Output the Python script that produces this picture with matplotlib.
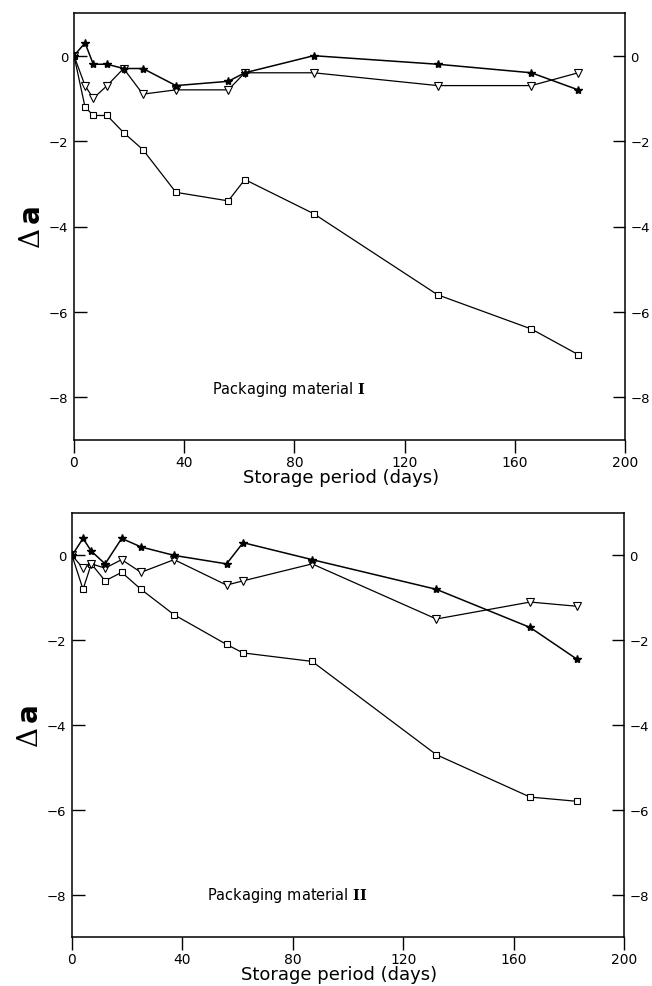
import numpy as np
import matplotlib
matplotlib.use("Agg")
import matplotlib.pyplot as plt

plt.rcParams['font.family'] = ['DejaVu Sans']
plt.rcParams['mathtext.fontset'] = 'dejavuserif'

# storage days (same sampling for both materials)
days = [0, 4, 7, 12, 18, 25, 37, 56, 62, 87, 132, 166, 183]

# packaging material I
m1_star = [0, 0.3, -0.2, -0.2, -0.3, -0.3, -0.7, -0.6, -0.4, 0.0, -0.2, -0.4, -0.8]
m1_tri = [0, -0.7, -1.0, -0.7, -0.3, -0.9, -0.8, -0.8, -0.4, -0.4, -0.7, -0.7, -0.4]
m1_sq = [0, -1.2, -1.4, -1.4, -1.8, -2.2, -3.2, -3.4, -2.9, -3.7, -5.6, -6.4, -7.0]

# packaging material II
m2_star = [0, 0.4, 0.1, -0.2, 0.4, 0.2, 0.0, -0.2, 0.3, -0.1, -0.8, -1.7, -2.45]
m2_tri = [0, -0.3, -0.2, -0.3, -0.1, -0.4, -0.1, -0.7, -0.6, -0.2, -1.5, -1.1, -1.2]
m2_sq = [0, -0.8, -0.2, -0.6, -0.4, -0.8, -1.4, -2.1, -2.3, -2.5, -4.7, -5.7, -5.8]

xticks = [0, 40, 80, 120, 160, 200]
yticks = [0, -2, -4, -6, -8]

fig = plt.figure(figsize=(6.52, 9.87), dpi=100)
ax1 = fig.add_axes([74/652, 1-441/987, 551/652, 427/987])
ax2 = fig.add_axes([72/652, 1-938/987, 552/652, 424/987])


def draw(ax, star, tri, sq, numeral, lab_x, lab_y):
    ax.plot(days, sq, color='black', lw=0.9, marker='s', ms=5,
            mfc='white', mec='black', mew=0.8, zorder=3)
    ax.plot(days, tri, color='black', lw=0.9, marker='v', ms=5.5,
            mfc='white', mec='black', mew=0.8, zorder=4)
    ax.plot(days, star, color='black', lw=1.1, marker='*', ms=6,
            mfc='black', mec='black', zorder=5)
    ax.set_xlim(0, 200)
    ax.set_ylim(-9, 1)
    ax.set_xticks(xticks)
    ax.set_yticks(yticks)
    ax.set_yticklabels(['0', '\u22122', '\u22124', '\u22126', '\u22128'])
    ax.tick_params(axis='x', direction='out', length=9, width=1, labelsize=10, pad=2)
    ax.tick_params(axis='y', direction='in', length=9, width=1, labelsize=9.5,
                   left=True, right=True, labelleft=True, labelright=True, pad=4)
    for s in ax.spines.values():
        s.set_linewidth(1.1)
    ax.set_xlabel('Storage period (days)', fontsize=13)
    ax.xaxis.set_label_coords(0.484, -0.066)
    ax.set_ylabel(r'$\Delta\,$a', fontsize=20, fontweight='bold', labelpad=2)
    ax.text(lab_x, lab_y, 'Packaging material $\\mathbf{' + numeral + '}$',
            fontsize=10.5, ha='left', va='center')


draw(ax1, m1_star, m1_tri, m1_sq, 'I', 50, -7.8)
draw(ax2, m2_star, m2_tri, m2_sq, 'II', 49, -8.0)

fig.savefig('out.png', dpi=100)
